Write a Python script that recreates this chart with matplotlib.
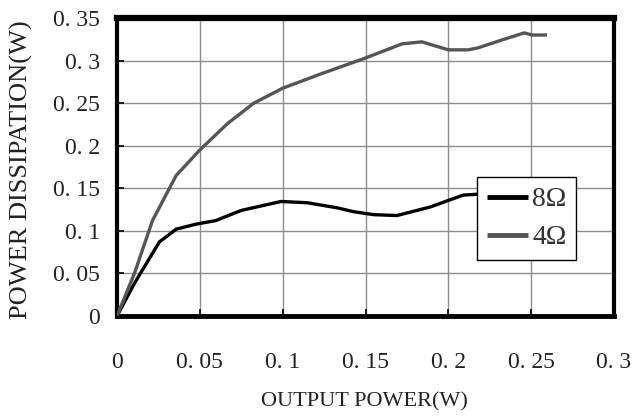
import matplotlib

matplotlib.use("Agg")
import matplotlib.pyplot as plt

# values (W)
out_8ohm = [0.0, 0.0107, 0.0256, 0.0357, 0.048, 0.0595, 0.075, 0.099, 0.115,
            0.133, 0.1428, 0.155, 0.169, 0.189, 0.209, 0.2175]
diss_8ohm = [0.0, 0.039, 0.087, 0.102, 0.108, 0.112, 0.124, 0.1345, 0.133,
             0.127, 0.1225, 0.119, 0.118, 0.128, 0.142, 0.143]

out_4ohm = [0.0, 0.0107, 0.0214, 0.0357, 0.05, 0.0667, 0.0826, 0.1, 0.124,
            0.15, 0.172, 0.184, 0.2, 0.212, 0.218, 0.232, 0.2458, 0.2506, 0.2596]
diss_4ohm = [0.0, 0.051, 0.112, 0.165, 0.195, 0.226, 0.25, 0.2675, 0.285,
             0.303, 0.3196, 0.322, 0.3126, 0.3126, 0.315, 0.324, 0.3325, 0.330, 0.330]

x_ticks = [0, 0.05, 0.1, 0.15, 0.2, 0.25, 0.3]
x_labels = ["0", "0. 05", "0. 1", "0. 15", "0. 2", "0. 25", "0. 3"]
y_ticks = [0, 0.05, 0.1, 0.15, 0.2, 0.25, 0.3, 0.35]
y_labels = ["0", "0. 05", "0. 1", "0. 15", "0. 2", "0. 25", "0. 3", "0. 35"]

SERIF = "Liberation Serif"
TEXT = "#222222"

fig = plt.figure(figsize=(6.37, 4.18), dpi=100)
ax = fig.add_axes([117 / 637, 1 - 316 / 418, 497 / 637, 298 / 418])

ax.plot(out_8ohm, diss_8ohm, color="#000000", linewidth=2.4, label="8Ω",
        solid_capstyle="butt", solid_joinstyle="round", zorder=3)
ax.plot(out_4ohm, diss_4ohm, color="#555555", linewidth=2.4, label="4Ω",
        solid_capstyle="butt", solid_joinstyle="round", zorder=3)

ax.set_xlim(0, 0.3)
ax.set_ylim(0, 0.35)
ax.set_xticks(x_ticks)
ax.set_xticklabels(x_labels)
ax.set_yticks(y_ticks)
ax.set_yticklabels(y_labels)
ax.grid(True, color="#8c8c8c", linewidth=1.0)
ax.set_axisbelow(True)

ax.tick_params(axis="both", direction="in", length=5, width=1.2,
               colors="black", labelcolor=TEXT)
ax.tick_params(axis="x", pad=26)
ax.tick_params(axis="y", pad=12)
for lab in ax.get_xticklabels() + ax.get_yticklabels():
    lab.set_fontfamily(SERIF)
    lab.set_fontsize(17)

ax.spines["top"].set_linewidth(4.5)
ax.spines["bottom"].set_linewidth(3.5)
ax.spines["left"].set_linewidth(3.0)
ax.spines["right"].set_linewidth(3.0)

ax.set_xlabel("OUTPUT POWER(W)", family=SERIF, fontsize=16, color=TEXT, va="center")
ax.xaxis.set_label_coords(0.497, -0.289)
ax.set_ylabel("POWER DISSIPATION(W)", family=SERIF, fontsize=19, color=TEXT, va="center")
ax.yaxis.set_label_coords(-0.193, 0.49)

leg = ax.legend(loc="upper left", bbox_to_anchor=(0.724, 0.466), borderaxespad=0,
                fancybox=False, framealpha=1, edgecolor="black", handlelength=1.5,
                handletextpad=0.15, labelspacing=0.45, borderpad=0.35,
                prop={"family": SERIF, "size": 20})
leg.get_frame().set_linewidth(1.0)
for t in leg.get_texts():
    t.set_color("#333333")
for h in leg.get_lines():
    h.set_linewidth(3.5)
leg.set_zorder(5)

fig.savefig("out.png", dpi=100)
